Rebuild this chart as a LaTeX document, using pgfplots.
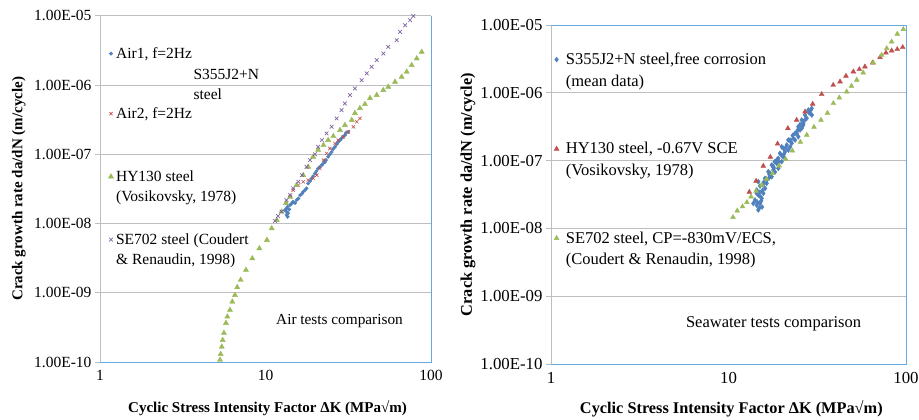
\documentclass[border=0pt]{standalone}
\usepackage{fontspec}
\setmainfont{Liberation Serif}
\usepackage{pgfplots}
\pgfplotsset{compat=1.18}
\definecolor{cblue}{HTML}{4F81BD}
\definecolor{cred}{HTML}{C0504D}
\definecolor{cgreen}{HTML}{9BBB59}
\definecolor{cpurple}{HTML}{8064A2}
\definecolor{framecol}{RGB}{100,170,225}
\definecolor{gridgray}{RGB}{190,190,190}
\begin{document}
\begin{tikzpicture}
\path[use as bounding box] (0pt,0pt) rectangle (919pt,-420pt);
% ---------------- left panel ----------------
\begin{axis}[
  scale only axis, xmode=log, ymode=log,
  xmin=1, xmax=100, ymin=1e-10, ymax=1e-5,
  xtick={1,10,100}, xticklabels={1,10,100},
  ytick={1e-10,1e-9,1e-8,1e-7,1e-6,1e-5},
  yticklabels={1.00E-10,1.00E-09,1.00E-08,1.00E-07,1.00E-06,1.00E-05},
  xminorticks=false, yminorticks=false,
  ymajorgrids, major grid style={draw=gridgray, line width=0.8pt},
  axis line style={draw=none},
  tick align=outside, ytick pos=left, xtick pos=bottom,
  xtick style={draw=none},
  ytick style={draw=gridgray, line width=0.8pt},
  major tick length=5pt,
  tick label style={font=\fontsize{15.5}{18}\selectfont},
  every axis label/.append style={font=\bfseries\fontsize{15}{18}\selectfont},
  clip=false,
  width=331pt, height=346.3pt, at={(100pt,-362pt)}, anchor=south west,
  xlabel={Cyclic Stress Intensity Factor ΔK (MPa√m)},
  ylabel={Crack growth rate da/dN (m/cycle)},
  xlabel style={at={(axis description cs:0.506,-0.133)}, anchor=center},
  ylabel style={at={(axis description cs:-0.245,0.5)}, anchor=center},
  legend style={draw=none, fill=none, inner sep=0pt, outer sep=0pt, row sep=47.5pt,
      nodes={inner sep=0pt}, cells={anchor=base west},
      font=\fontsize{15.5}{20}\selectfont,
      at={(rel axis cs:0.0254,0.908)}, anchor=north west, column sep=2.5pt},
  legend image post style={yshift=4.8pt},
]
\addplot[only marks, mark=*, mark size=1.7pt, color=cblue] coordinates {
(31.6,2.10e-7) (30.2,1.89e-7) (28.8,1.69e-7) (27.5,1.51e-7) (26.3,1.28e-7)
(25.1,1.08e-7) (23.9,9.17e-8) (22.9,7.76e-8) (21.9,6.97e-8) (20.8,6.24e-8)
(19.9,5.28e-8) (19.0,4.48e-8) (18.1,3.79e-8) (17.7,3.21e-8) (16.9,2.87e-8)
(16.2,2.57e-8) (15.8,2.30e-8) (15.4,2.18e-8) (14.7,2.06e-8) (14.1,1.85e-8)
(13.4,1.65e-8) (13.4,1.48e-8) (13.4,1.33e-8) (13.7,1.41e-8) (13.1,1.56e-8)
(19.4,4.83e-8) (21.3,6.52e-8) (23.2,8.22e-8) (25.6,1.19e-7) (28.2,1.60e-7)
(30.6,2.02e-7) (17.3,3.03e-8) (15.1,1.97e-8) (13.6,1.75e-8) (14.4,1.95e-8)
(16.6,2.70e-8) (18.6,4.10e-8) (20.3,5.70e-8) (22.4,7.40e-8) (24.5,1.00e-7)
(27.0,1.40e-7) (29.5,1.80e-7) (13.6,1.25e-8) (13.9,1.60e-8)
};
\addlegendentry{Air1, f=2Hz}
\addplot[only marks, mark=x, mark size=2.3pt, line width=0.6pt, color=cred] coordinates {
(13.4,1.95e-8) (14.1,2.43e-8) (14.7,3.03e-8) (15.8,3.58e-8) (16.9,4.0e-8)
(18.1,4.23e-8) (19.4,4.48e-8) (20.4,4.99e-8) (21.3,6.24e-8) (22.4,8.22e-8)
(23.4,1.03e-7) (24.5,1.21e-7) (26.3,1.43e-7) (27.5,1.60e-7) (29.5,1.78e-7)
(31.6,2.10e-7) (34.0,2.49e-7) (35.6,2.94e-7) (37.2,3.29e-7)
};
\addlegendentry{Air2, f=2Hz}
\addplot[only marks, mark=triangle*, mark size=3pt, color=cgreen] coordinates {
(5.31,1.07e-10) (5.36,1.30e-10) (5.44,1.66e-10) (5.51,2.07e-10) (5.61,2.62e-10)
(5.77,3.65e-10) (5.88,4.51e-10) (6.10,5.63e-10) (6.30,7.41e-10) (6.54,9.26e-10)
(6.75,1.20e-9) (7.08,1.53e-9) (7.62,2.13e-9) (8.32,3.13e-9) (9.18,4.37e-9)
(10.2,5.76e-9) (10.9,8.49e-9) (11.7,1.12e-8) (12.5,1.48e-8) (13.3,1.97e-8)
(14.1,2.43e-8) (15.4,3.58e-8) (16.9,4.99e-8) (18.1,6.58e-8) (19.4,9.17e-8)
(20.8,1.15e-7) (22.4,1.35e-7) (23.9,1.60e-7) (25.7,1.82e-7) (28.2,2.23e-7)
(30.2,2.63e-7) (33.2,3.11e-7) (34.7,3.92e-7) (37.2,4.62e-7) (39.9,5.28e-7)
(42.8,6.45e-7) (47.0,7.13e-7) (51.5,8.41e-7) (55.2,9.39e-7) (60.6,1.11e-6)
(66.5,1.31e-6) (71.3,1.55e-6) (76.4,1.93e-6) (82.0,2.41e-6) (87.9,3.0e-6)
};
\addlegendentry{\begin{tabular}[t]{@{}l@{}}HY130 steel\\(Vosikovsky, 1978)\end{tabular}}
\addplot[only marks, mark=x, mark size=2.6pt, line width=0.7pt, color=cpurple] coordinates {
(78.2,9.9e-6) (74.7,8.61e-6) (69.7,7.29e-6) (65.0,5.84e-6) (62.1,4.43e-6)
(55.2,3.55e-6) (51.5,2.85e-6) (47.0,2.28e-6) (43.8,1.83e-6) (40.9,1.47e-6)
(38.1,1.17e-6) (34.7,8.9e-7) (32.4,7.13e-7) (30.2,5.41e-7) (28.8,4.33e-7)
(26.9,3.29e-7) (25.1,2.49e-7) (23.4,2.0e-7) (21.9,1.60e-7) (20.8,1.28e-7)
(19.9,1.0e-7) (18.6,8.22e-8) (17.7,6.58e-8) (16.6,4.99e-8) (15.8,4.0e-8)
(14.7,3.21e-8) (14.1,2.57e-8) (13.4,2.18e-8) (12.5,1.48e-8) (11.9,1.28e-8)
(11.4,1.09e-8)
};
\addlegendentry{\begin{tabular}[t]{@{}l@{}}SE702 steel (Coudert\\\& Renaudin, 1998)\end{tabular}}
\node[anchor=base west, inner sep=0pt, font=\fontsize{15.5}{20}\selectfont] at (rel axis cs:0.282,0.815)
  {\begin{tabular}[t]{@{}l@{}}S355J2+N\\steel\end{tabular}};
\node[anchor=center, inner sep=0pt, font=\fontsize{15.3}{20}\selectfont] at (rel axis cs:0.7236,0.119) {Air tests comparison};
\draw[gridgray, line width=0.8pt] (rel axis cs:0,0) -- (rel axis cs:0,1);
\draw[framecol, line width=0.9pt] (rel axis cs:0,0) -- (rel axis cs:1,0) -- (rel axis cs:1,1);
\end{axis}
% ---------------- right panel ----------------
\begin{axis}[
  scale only axis, xmode=log, ymode=log,
  xmin=1, xmax=100, ymin=1e-10, ymax=1e-5,
  xtick={1,10,100}, xticklabels={1,10,100},
  ytick={1e-10,1e-9,1e-8,1e-7,1e-6,1e-5},
  yticklabels={1.00E-10,1.00E-09,1.00E-08,1.00E-07,1.00E-06,1.00E-05},
  xminorticks=false, yminorticks=false,
  ymajorgrids, major grid style={draw=gridgray, line width=0.8pt},
  axis line style={draw=none},
  tick align=outside, ytick pos=left, xtick pos=bottom,
  xtick style={draw=none},
  ytick style={draw=gridgray, line width=0.8pt},
  major tick length=5pt,
  tick label style={font=\fontsize{16.8}{19}\selectfont},
  every axis label/.append style={font=\bfseries\fontsize{16.3}{19}\selectfont},
  clip=false,
  width=355pt, height=339pt, at={(551pt,-364pt)}, anchor=south west,
  xlabel={Cyclic Stress Intensity Factor ΔK (MPa√m)},
  ylabel={Crack growth rate da/dN (m/cycle)},
  xlabel style={at={(axis description cs:0.508,-0.131)}, anchor=center},
  ylabel style={at={(axis description cs:-0.234,0.5)}, anchor=center},
  legend style={draw=none, fill=none, inner sep=0pt, outer sep=0pt, row sep=72.6pt,
      nodes={inner sep=0pt}, cells={anchor=base west},
      font=\fontsize{16.5}{21.7}\selectfont,
      at={(rel axis cs:0.009,0.928)}, anchor=north west, column sep=6.8pt},
  legend image post style={yshift=5pt},
]
\addplot[only marks, mark=diamond*, mark size=2.5pt, color=cblue] coordinates {
(14.72,1.87e-8) (14.42,2.21e-8) (15.05,2.34e-8) (14.10,2.62e-8) (15.38,2.78e-8)
(14.72,3.11e-8) (15.71,3.30e-8) (14.42,3.68e-8) (16.06,3.90e-8) (15.05,4.22e-8)
(16.41,4.62e-8) (14.72,4.89e-8) (16.06,5.48e-8) (17.51,5.78e-8) (16.76,6.86e-8)
(17.88,7.26e-8) (19.08,7.69e-8) (17.51,8.61e-8) (18.69,9.12e-8) (19.94,9.64e-8)
(19.08,1.08e-7) (20.36,1.14e-7) (19.50,1.28e-7) (20.81,1.35e-7) (21.73,1.43e-7)
(20.36,1.52e-7) (21.28,1.70e-7) (22.70,1.80e-7) (21.73,2.01e-7) (23.19,2.13e-7)
(24.74,2.25e-7) (23.71,2.53e-7) (25.29,2.83e-7) (24.74,3.16e-7) (26.38,3.35e-7)
(25.84,3.97e-7) (27.58,4.21e-7) (26.98,4.70e-7) (28.78,4.99e-7) (28.18,5.57e-7)
(29.42,5.90e-7) (13.80,2.34e-8) (14.42,3.30e-8) (16.41,5.17e-8) (17.13,6.50e-8)
(17.88,8.13e-8) (18.69,1.02e-7) (19.94,1.60e-7) (22.22,2.01e-7) (24.23,2.53e-7)
(26.38,3.55e-7) (29.5,4.70e-7) (15.45,2.07e-8) (15.05,3.0e-8) (15.64,4.37e-8)
(16.9,5.54e-8) (18.28,6.79e-8) (19.26,9.53e-8) (20.55,1.25e-7) (22.22,1.59e-7)
(23.71,2.01e-7) (25.95,3.03e-7) (14.9,2.00e-8) (14.5,2.45e-8) (15.3,2.55e-8)
(14.9,3.40e-8) (15.5,3.60e-8) (15.8,4.80e-8) (17.0,6.20e-8) (18.0,7.80e-8)
(18.2,9.60e-8) (20.0,1.18e-7) (21.0,1.55e-7) (22.5,1.90e-7) (23.0,2.35e-7)
(24.5,2.80e-7) (25.3,3.40e-7) (27.0,4.00e-7) (28.3,5.20e-7) (29.0,5.50e-7)
};
\addlegendentry{\begin{tabular}[t]{@{}l@{}}S355J2+N steel,free corrosion\\(mean data)\end{tabular}}
\addplot[only marks, mark=triangle*, mark size=2.8pt, color=cred] coordinates {
(13.1,3.44e-8) (14.3,5.0e-8) (15.7,8.32e-8) (17.2,1.13e-7) (18.9,1.77e-7)
(21.6,2.99e-7) (24.2,3.97e-7) (27.0,5.26e-7) (29.8,6.84e-7) (33.5,9.50e-7)
(38.9,1.30e-6) (42.5,1.46e-6) (45.9,1.77e-6) (50.5,2.05e-6) (54.6,2.22e-6)
(58.7,2.43e-6) (64.9,2.78e-6) (71.4,3.34e-6) (77.1,3.90e-6) (83.0,4.18e-6)
(89.3,4.38e-6) (95.8,4.69e-6)
};
\addlegendentry{\begin{tabular}[t]{@{}l@{}}HY130 steel, -0.67V SCE\\(Vosikovsky, 1978)\end{tabular}}
\addplot[only marks, mark=triangle*, mark size=2.8pt, color=cgreen] coordinates {
(10.6,1.46e-8) (11.2,1.82e-8) (12.0,2.10e-8) (12.7,2.43e-8) (13.4,2.94e-8)
(14.3,3.56e-8) (15.4,4.37e-8) (16.4,5.35e-8) (17.7,6.50e-8) (19.3,8.41e-8)
(21.0,1.05e-7) (22.9,1.40e-7) (25.4,1.88e-7) (27.6,2.39e-7) (30.3,3.13e-7)
(33.2,3.97e-7) (36.1,5.04e-7) (39.0,7.00e-7) (42.1,8.47e-7) (46.3,1.04e-6)
(49.3,1.26e-6) (52.8,1.55e-6) (57.4,1.98e-6) (65.4,2.78e-6) (72.9,3.61e-6)
(77.9,4.53e-6) (83.0,5.68e-6) (89.3,7.37e-6) (96.6,8.65e-6)
};
\addlegendentry{\begin{tabular}[t]{@{}l@{}}SE702 steel, CP=-830mV/ECS,\\(Coudert \& Renaudin, 1998)\end{tabular}}
\node[anchor=center, inner sep=0pt, font=\fontsize{16.5}{20}\selectfont] at (rel axis cs:0.627,0.118) {Seawater tests comparison};
\draw[gridgray, line width=0.8pt] (rel axis cs:0,0) -- (rel axis cs:0,1);
\draw[framecol, line width=0.9pt] (rel axis cs:0,0) -- (rel axis cs:1,0) -- (rel axis cs:1,1) -- (rel axis cs:0,1);
\end{axis}
\end{tikzpicture}
\end{document}
